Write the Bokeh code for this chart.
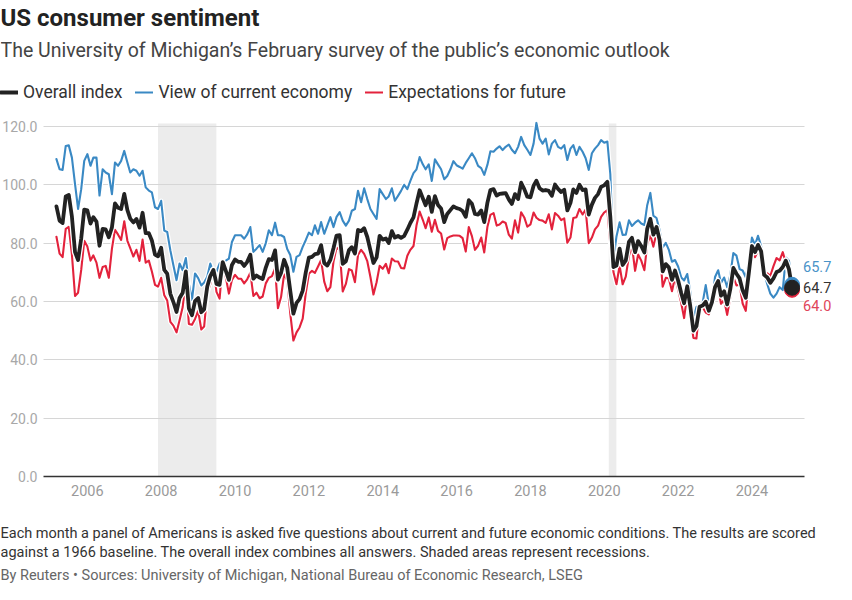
import pandas as pd
from bokeh.plotting import figure
from bokeh.models import (Range1d, FixedTicker, DatetimeTickFormatter, PrintfTickFormatter,
                          BoxAnnotation, Label, Legend, LegendItem, ColumnDataSource)
from bokeh.embed import file_html
from bokeh.resources import INLINE

# ---------------- data (monthly, Mar 2005 - Feb 2025) ----------------
start_month = "2005-03-01"

overall = [
    92.6, 87.7, 86.9, 96.0, 96.5, 89.1, 76.9, 74.2, 81.6, 91.5,
    91.2, 86.7, 88.9, 87.4, 79.1, 84.9, 84.7, 82.0, 85.4, 93.6, 92.1, 91.7,
    96.9, 91.3, 88.4, 87.1, 88.3, 85.3, 90.4, 83.4, 83.4, 80.9, 76.1, 75.5,
    78.4, 70.8, 69.5, 62.6, 59.8, 56.4, 61.2, 63.0, 70.3, 57.6, 55.3, 60.1,
    61.2, 56.3, 57.3, 65.1, 68.7, 70.8, 66.0, 65.7, 73.5, 70.6, 67.4, 72.5,
    74.4, 73.6, 73.6, 72.2, 73.6, 76.0, 67.8, 68.9, 68.2, 67.7, 71.6, 74.5,
    74.2, 77.5, 67.5, 69.8, 74.3, 71.5, 63.7, 55.8, 59.5, 60.8, 63.7, 69.9,
    75.0, 75.3, 76.2, 76.4, 79.3, 73.2, 72.3, 74.3, 78.3, 82.6, 82.7, 72.9,
    73.8, 77.6, 78.6, 76.4, 84.5, 84.1, 85.1, 82.1, 77.5, 73.2, 75.1, 82.5,
    81.2, 81.6, 80.0, 84.1, 81.9, 82.5, 81.8, 82.5, 84.6, 86.9, 88.8, 93.6,
    98.1, 95.4, 93.0, 95.9, 90.7, 96.1, 93.1, 91.9, 87.2, 90.0, 91.3, 92.6,
    92.0, 91.7, 91.0, 89.0, 94.7, 93.5, 90.0, 89.8, 91.2, 87.2, 93.8, 98.2,
    98.5, 96.3, 96.9, 97.0, 97.1, 95.0, 93.4, 96.8, 95.1, 100.7, 98.5, 95.9,
    95.7, 99.7, 101.4, 98.8, 98.0, 98.2, 97.9, 96.2, 100.1, 98.6, 97.5, 98.3,
    91.2, 93.8, 98.4, 97.2, 100.0, 98.2, 98.4, 89.8, 93.2, 95.5, 96.8, 99.3,
    99.8, 101.0, 89.1, 71.8, 72.3, 78.1, 72.5, 74.1, 80.4, 81.8, 76.9, 80.7,
    79.0, 76.8, 84.9, 88.3, 82.9, 85.5, 81.2, 70.3, 72.8, 71.7, 67.4, 70.6,
    67.2, 62.8, 59.4, 65.2, 58.4, 50.0, 51.5, 58.2, 58.6, 59.9, 56.8, 59.7,
    64.9, 67.0, 62.0, 63.5, 59.0, 64.2, 71.5, 69.5, 67.9, 63.8, 61.3, 69.7,
    79.0, 76.9, 79.4, 77.2, 69.1, 68.2, 66.4, 67.9, 70.1, 70.5, 71.8, 74.0,
    71.1, 64.7,
]

current = [
    108.8, 105.3, 105.1, 113.3, 113.5, 109.3, 100.2, 91.7, 98.5, 108.2,
    110.5, 106.5, 109.3, 109.3, 96.3, 105.3, 104.2, 103.6, 96.8, 107.6, 106.5, 108.2,
    111.6, 107.6, 104.2, 105.3, 104.8, 103.1, 104.8, 99.1, 98.0, 97.4, 92.3, 91.7,
    94.5, 84.3, 83.8, 77.5, 72.4, 67.3, 73.0, 70.7, 74.9, 66.0, 60.5, 69.6,
    68.0, 65.5, 66.5, 68.5, 73.0, 70.0, 70.2, 73.0, 73.6, 74.0, 74.7, 80.4,
    82.7, 82.7, 82.7, 81.5, 83.0, 85.5, 77.0, 78.1, 79.3, 77.0, 80.0, 84.4,
    82.7, 87.0, 82.7, 82.7, 82.1, 78.0, 75.9, 70.2, 75.3, 75.9, 78.7, 81.0,
    83.6, 82.7, 86.1, 83.2, 87.2, 83.2, 86.0, 88.9, 85.5, 89.0, 90.6, 87.7,
    86.0, 87.7, 91.1, 91.7, 97.9, 94.0, 98.8, 95.1, 91.7, 90.0, 88.3, 98.5,
    96.8, 95.1, 96.0, 98.8, 94.5, 96.2, 97.9, 100.0, 98.5, 101.3, 104.0, 105.3,
    109.5, 107.0, 105.3, 107.0, 101.3, 108.7, 107.0, 105.3, 101.9, 103.0, 105.3, 108.1,
    106.7, 106.1, 105.5, 107.5, 109.1, 110.8, 109.1, 106.5, 105.7, 103.4, 106.8, 111.5,
    111.3, 112.4, 113.2, 111.9, 113.0, 113.8, 112.0, 110.8, 113.0, 116.4, 113.6, 112.0,
    110.2, 114.1, 121.2, 115.8, 114.1, 115.8, 110.4, 114.1, 115.3, 113.0, 112.4, 113.6,
    108.5, 112.4, 113.6, 110.2, 113.0, 111.3, 109.1, 105.1, 110.8, 112.4, 113.6, 115.3,
    114.4, 114.8, 103.7, 74.3, 82.3, 87.1, 82.8, 82.9, 87.8, 85.9, 87.0, 87.8,
    86.7, 86.2, 93.0, 97.2, 89.4, 88.6, 84.5, 78.5, 80.1, 77.7, 73.6, 74.2,
    72.0, 68.2, 67.2, 69.4, 63.3, 53.8, 58.1, 58.6, 59.7, 65.6, 58.8, 59.4,
    68.4, 70.7, 66.3, 68.2, 64.9, 69.0, 76.6, 75.7, 71.1, 70.6, 68.3, 73.3,
    81.9, 79.4, 82.5, 79.0, 69.6, 65.9, 62.7, 61.3, 62.7, 64.9, 63.9, 75.1,
    74.0, 65.7,
]

expectations = [
    82.2, 76.4, 75.2, 84.9, 85.6, 76.1, 61.9, 63.0, 70.8, 80.8,
    78.8, 74.0, 75.8, 73.3, 68.1, 71.8, 72.2, 68.1, 78.1, 84.6, 82.9, 81.1,
    87.5, 80.8, 78.3, 75.4, 77.7, 73.9, 81.2, 73.3, 74.0, 70.3, 65.7, 65.1,
    68.1, 62.1, 60.3, 53.0, 51.7, 49.4, 53.6, 58.1, 67.3, 52.3, 52.0, 54.0,
    56.8, 50.4, 51.4, 62.9, 65.9, 71.3, 63.3, 61.0, 73.4, 68.4, 62.7, 67.4,
    69.1, 67.8, 67.8, 66.2, 67.6, 69.9, 61.9, 63.0, 61.1, 61.7, 66.2, 68.1,
    68.7, 71.4, 57.7, 61.5, 69.3, 67.3, 55.9, 46.6, 49.4, 51.1, 54.1, 62.8,
    69.5, 70.5, 69.8, 72.0, 74.2, 66.8, 63.5, 64.9, 73.7, 78.5, 77.6, 63.4,
    66.0, 71.1, 70.6, 66.6, 75.9, 77.7, 76.3, 73.8, 68.4, 62.4, 66.6, 72.2,
    71.2, 72.9, 69.7, 74.7, 73.8, 73.7, 71.5, 71.3, 75.7, 77.7, 79.0, 86.1,
    90.8, 88.0, 85.1, 88.8, 83.9, 88.0, 84.2, 83.3, 77.8, 81.7, 82.3, 82.6,
    82.6, 82.5, 81.7, 77.1, 85.5, 82.4, 77.7, 79.1, 81.9, 76.8, 85.5, 89.7,
    90.3, 86.0, 86.4, 87.4, 86.9, 82.9, 81.5, 87.8, 83.6, 90.6, 88.8, 85.6,
    86.4, 90.5, 88.7, 87.9, 87.7, 86.9, 89.9, 84.7, 90.3, 89.4, 87.9, 88.5,
    80.1, 81.9, 88.6, 88.9, 91.7, 89.8, 91.5, 80.0, 81.9, 84.7, 86.0, 89.0,
    90.5, 91.3, 79.7, 70.1, 65.9, 72.3, 65.9, 68.5, 75.6, 79.2, 70.5, 76.1,
    74.0, 70.7, 79.7, 82.7, 78.8, 83.5, 79.0, 65.1, 68.1, 67.9, 63.5, 68.3,
    64.1, 59.4, 54.3, 62.5, 55.2, 47.5, 47.3, 58.0, 58.0, 56.2, 55.6, 59.9,
    62.7, 64.7, 59.2, 60.5, 55.4, 61.3, 68.3, 65.5, 65.8, 59.3, 56.8, 67.4,
    77.1, 75.2, 77.4, 76.0, 68.8, 69.6, 68.8, 72.1, 74.9, 74.1, 76.9, 73.3,
    69.3, 64.0,
]

recessions = [("2007-12-01", "2009-06-30"), ("2020-02-15", "2020-04-30")]
y_ticks = [0, 20, 40, 60, 80, 100, 120]
x_tick_years = [2006, 2008, 2010, 2012, 2014, 2016, 2018, 2020, 2022, 2024]

series_names = ["Overall index", "View of current economy", "Expectations for future"]

title = "US consumer sentiment"
subtitle = "The University of Michigan\u2019s February survey of the public\u2019s economic outlook"
note1 = ("Each month a panel of Americans is asked five questions about current and future "
         "economic conditions. The results are scored")
note2 = ("against a 1966 baseline. The overall index combines all answers. "
         "Shaded areas represent recessions.")
source = ("By Reuters \u2022 Sources: University of Michigan, National Bureau of Economic "
          "Research, LSEG")

# ---------------- layout / styling ----------------
FONT = "Roboto"
BLACK = "#222222"
BLUE = "#3a89c4"
RED = "#e3223c"

W, H = 836, 584
CHART_L, CHART_R = 43, 804          # px, chart area inside the canvas
CHART_T, CHART_B = 123, 476
chart_start, chart_end = "2004-10-24", "2025-06-04"
y_top = 121.0


def ms(ts):
    return pd.Timestamp(ts).value / 1e6


t0, t1 = ms(chart_start), ms(chart_end)
ppx = (CHART_R - CHART_L) / (t1 - t0)          # px per ms
ppy = (CHART_B - CHART_T) / y_top              # px per unit
x_range = Range1d(t0 - CHART_L / ppx, t1 + (W - CHART_R) / ppx)
y_range = Range1d(0 - (H - CHART_B) / ppy, y_top + CHART_T / ppy)

months = pd.date_range(start_month, periods=len(overall), freq="MS")
src = ColumnDataSource(dict(date=months, overall=overall, current=current,
                            expectations=expectations))

p = figure(width=W, height=H, x_axis_type="datetime", output_backend="svg",
           toolbar_location=None, x_range=x_range, y_range=y_range,
           min_border=0, min_border_left=0, min_border_right=0,
           min_border_top=0, min_border_bottom=0)
p.outline_line_color = None
p.background_fill_color = "white"
p.border_fill_color = "white"

# grid
p.xgrid.grid_line_color = None
p.ygrid.grid_line_color = "#d6d6d6"
p.ygrid.grid_line_width = 1.2
p.ygrid.ticker = FixedTicker(ticks=y_ticks[1:])
p.ygrid.cross_bounds = (t0, t1)

# y axis (drawn at the chart's left edge)
p.yaxis.fixed_location = t0
p.yaxis.bounds = (0, y_top)
p.yaxis.ticker = FixedTicker(ticks=y_ticks)
p.yaxis.formatter = PrintfTickFormatter(format="%.1f")
p.yaxis.axis_line_color = None
p.yaxis.major_tick_line_color = None
p.yaxis.minor_tick_line_color = None
p.yaxis.major_tick_out = 0
p.yaxis.major_label_text_font = FONT
p.yaxis.major_label_text_font_size = "14px"
p.yaxis.major_label_text_color = "#a8a8a8"
p.yaxis.major_label_standoff = 6

# x axis (drawn at value 0)
p.xaxis.fixed_location = 0
p.xaxis.bounds = (t0, t1)
p.xaxis.ticker = FixedTicker(ticks=[ms(f"{y}-01-01") for y in x_tick_years])
p.xaxis.formatter = DatetimeTickFormatter(years="%Y", months="%Y", days="%Y")
p.xaxis.axis_line_color = "#333333"
p.xaxis.axis_line_width = 1.5
p.xaxis.major_tick_line_color = None
p.xaxis.minor_tick_line_color = None
p.xaxis.major_tick_out = 0
p.xaxis.major_label_text_font = FONT
p.xaxis.major_label_text_font_size = "14.5px"
p.xaxis.major_label_text_color = "#9a9a9a"
p.xaxis.major_label_standoff = 8

# recessions
for a, b in recessions:
    p.add_layout(BoxAnnotation(left=ms(a), right=ms(b), bottom=0, top=y_top,
                               fill_color="#ececec", fill_alpha=1.0, line_color=None,
                               level="image"))

# lines with white halo
renderers = {}
for col, color, w in [("current", BLUE, 2.1), ("expectations", RED, 2.1), ("overall", BLACK, 3.8)]:
    p.line("date", col, source=src, line_color="white", line_width=w + 2.5,
           line_join="round", line_cap="round")
    renderers[col] = p.line("date", col, source=src, line_color=color, line_width=w,
                            line_join="round", line_cap="round")

# end dots
last = months[-1]
for vals, color in [(current, BLUE), (expectations, RED), (overall, BLACK)]:
    p.scatter(x=[last], y=[vals[-1]], size=15, fill_color=color, line_color=color)

# end value labels
for vals, color, yoff in [(current, "#4a93c8", 18), (overall, "#333333", 0),
                          (expectations, "#e0455a", -16)]:
    p.add_layout(Label(x=ms(last), y=vals[-1], text=f"{vals[-1]:.1f}", x_offset=11,
                       y_offset=yoff, text_baseline="middle", text_align="left",
                       text_font=FONT, text_font_size="14.5px", text_color=color))

# legend
legend = Legend(items=[LegendItem(label=series_names[0], renderers=[renderers["overall"]]),
                       LegendItem(label=series_names[1], renderers=[renderers["current"]]),
                       LegendItem(label=series_names[2], renderers=[renderers["expectations"]])],
                location=(0, H - 102), orientation="horizontal",
                glyph_width=18, glyph_height=20, label_height=20, label_standoff=5,
                spacing=13, padding=0, margin=0, border_line_color=None,
                background_fill_alpha=0, label_text_font=FONT,
                label_text_font_size="17.5px", label_text_color="#333333")
p.add_layout(legend)


# titles and notes (screen px, converted to frame coordinates)
def text(t, x, y_from_top, size, color, style="normal"):
    p.add_layout(Label(x=x, y=H - y_from_top, x_units="screen", y_units="screen", text=t,
                       text_font=FONT, text_font_size=size, text_color=color,
                       text_font_style=style, text_baseline="middle", text_align="left"))


text(title, 0, 17, "24px", "#222222", "bold")
text(subtitle, 0, 50, "19.5px", "#444444")
text(note1, 0, 533, "14.5px", "#333333")
text(note2, 0, 552, "14.5px", "#333333")
text(source, 0, 575, "14.5px", "#666666")

open("out.html", "w").write(file_html(p, INLINE))
